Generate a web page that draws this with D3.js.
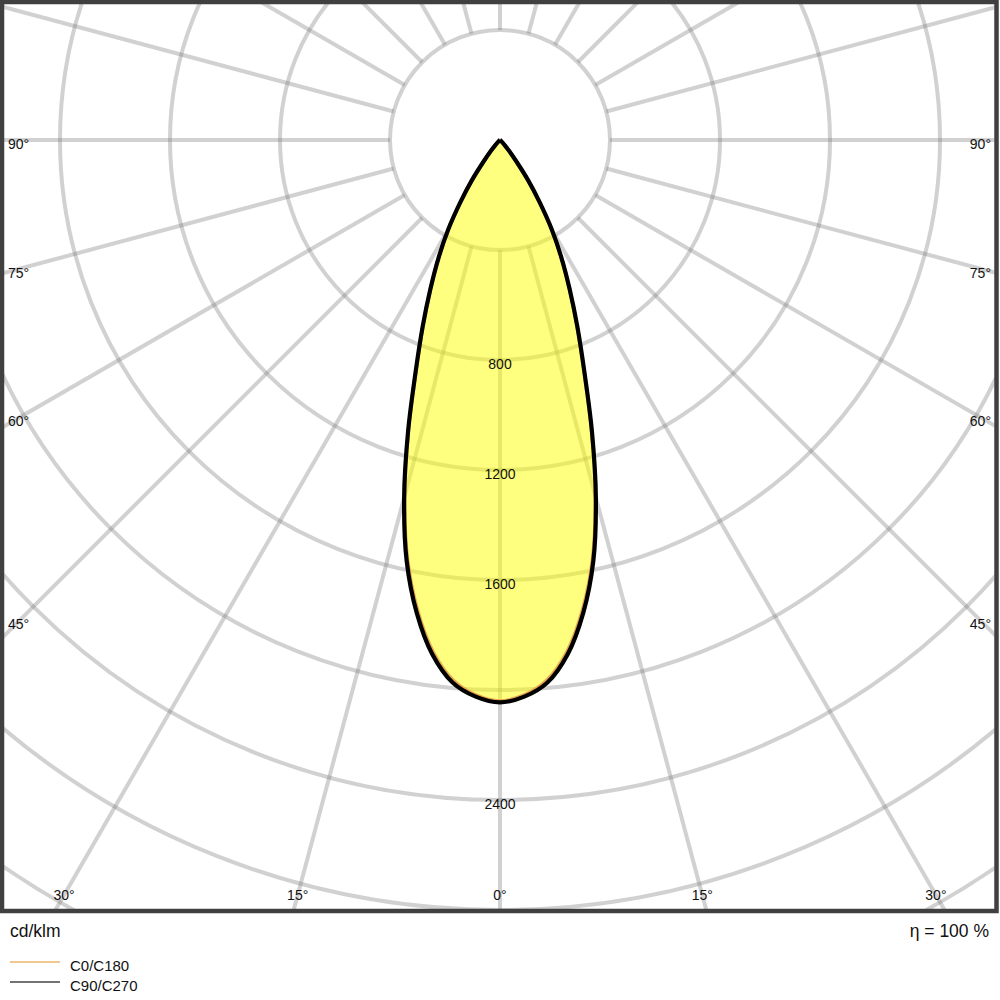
<!DOCTYPE html>
<html>
<head>
<meta charset="utf-8">
<script src="https://cdn.jsdelivr.net/npm/d3@7"></script>
<style>
  html, body { margin: 0; padding: 0; background: #fff; }
  svg { display: block; font-family: "Liberation Sans", Arial, Helvetica, sans-serif; }
</style>
</head>
<body>
<svg id="chart" width="1000" height="1000"></svg>
<script>
// ---- data (cd/klm vs. gamma angle in degrees) ----
const gammaAngles = [0, 2.5, 5, 7.5, 10, 12.5, 15, 17.5, 20, 22.5, 25, 27.5, 30, 32.5, 35, 37.5, 40, 42.5, 45, 50, 55, 60, 65, 70, 75, 80, 85, 90];
const c0c180  = [2040, 2020, 1970, 1874, 1732, 1556, 1338, 1106, 893, 732, 598, 484, 377, 267, 175, 94, 49, 24, 11, 4, 1, 0, 0, 0, 0, 0, 0, 0];
const c90c270 = [2045, 2026, 1980, 1886, 1745, 1568, 1347, 1112, 897, 735, 600, 485, 378, 268, 176, 95, 50, 25, 12, 4, 1, 0, 0, 0, 0, 0, 0, 0];
const ringValues = [400, 800, 1200, 1600, 2000, 2400, 2800, 3200, 3600];
const ringLabels = [800, 1200, 1600, 2400];
const spokeAngles = d3.range(0, 360, 15);
const sideLabels = [90, 75, 60, 45];
const bottomLabels = [0, 15, 30];
const legendItems = ["C0/C180", "C90/C270"];
const unitText = "cd/klm";
const etaText = "η = 100 %";

// ---- layout ----
const cx = 500, cy = 140;
const frame = {x: 2, y: 2, w: 994.5, h: 909};
const r = d3.scaleLinear().domain([0, 400]).range([0, 110]);
const svg = d3.select("#chart");

svg.append("defs").append("clipPath").attr("id", "clip")
  .append("rect").attr("x", 4).attr("y", 4).attr("width", 990.5).attr("height", 905);

const plot = svg.append("g").attr("clip-path", "url(#clip)");
const g = plot.append("g").attr("transform", `translate(${cx},${cy})`);

const gridStyle = sel => sel.attr("fill", "none").attr("stroke", "#808080")
  .attr("stroke-opacity", 0.36).attr("stroke-width", 4);

// rings
g.selectAll("circle.ring").data(ringValues).join("circle")
  .attr("class", "ring").attr("r", d => r(d)).call(gridStyle);

// spokes
const rMin = r(400), rMax = 1400;
g.selectAll("line.spoke").data(spokeAngles).join("line")
  .attr("class", "spoke")
  .attr("x1", d => rMin * Math.sin(d * Math.PI / 180))
  .attr("y1", d => rMin * Math.cos(d * Math.PI / 180))
  .attr("x2", d => rMax * Math.sin(d * Math.PI / 180))
  .attr("y2", d => rMax * Math.cos(d * Math.PI / 180))
  .call(gridStyle);

// curves
function pts(vals) {
  const right = gammaAngles.map((a, i) => ({a: Math.PI - a * Math.PI / 180, v: vals[i]})).reverse();
  const left = gammaAngles.slice(1).map((a, i) => ({a: Math.PI + a * Math.PI / 180, v: vals[i + 1]}));
  return right.concat(left);
}
const radial = d3.lineRadial().angle(d => d.a).radius(d => r(d.v)).curve(d3.curveCatmullRomClosed);

g.append("path").attr("d", radial(pts(c90c270)))
  .attr("fill", "#ffff00").attr("fill-opacity", 0.5).attr("stroke", "none");
g.append("path").attr("d", radial(pts(c0c180)))
  .attr("fill", "none").attr("stroke", "#e9a850").attr("stroke-width", 3.5).attr("stroke-linejoin", "round");
g.append("path").attr("d", radial(pts(c90c270)))
  .attr("fill", "none").attr("stroke", "#000").attr("stroke-width", 4.2).attr("stroke-linejoin", "round");

// ring labels
g.selectAll("text.rl").data(ringLabels).join("text")
  .attr("class", "rl").attr("x", 0).attr("y", d => r(d) + 4).attr("dy", "0.35em")
  .attr("text-anchor", "middle").attr("font-size", 14).attr("fill", "#111").text(d => d);

// side angle labels
const sideY = d => cy + (d === 90 ? 0 : 480 / Math.tan(d * Math.PI / 180)) + 4;
svg.selectAll("text.sl").data(sideLabels).join("text")
  .attr("class", "sl").attr("x", 8).attr("y", d => sideY(d)).attr("dy", "0.35em")
  .attr("text-anchor", "start").attr("font-size", 14).attr("fill", "#111").text(d => d + "°");
svg.selectAll("text.sr").data(sideLabels).join("text")
  .attr("class", "sr").attr("x", 991).attr("y", d => sideY(d)).attr("dy", "0.35em")
  .attr("text-anchor", "end").attr("font-size", 14).attr("fill", "#111").text(d => d + "°");

// bottom angle labels
const bottomData = [];
bottomLabels.forEach(d => { bottomData.push({a: d, s: 1}); if (d > 0) bottomData.push({a: d, s: -1}); });
svg.selectAll("text.bl").data(bottomData).join("text")
  .attr("class", "bl")
  .attr("x", d => cx + d.s * 755 * Math.tan(d.a * Math.PI / 180))
  .attr("y", 900).attr("text-anchor", "middle").attr("font-size", 14).attr("fill", "#111")
  .text(d => d.a + "°");

// frame
svg.append("rect").attr("x", frame.x).attr("y", frame.y).attr("width", frame.w).attr("height", frame.h)
  .attr("fill", "none").attr("stroke", "#404040").attr("stroke-width", 4.5);

// footer texts
svg.append("text").attr("x", 10).attr("y", 937).attr("font-size", 17.5).attr("fill", "#111").text(unitText);
svg.append("text").attr("x", 989).attr("y", 937).attr("text-anchor", "end").attr("font-size", 17.5).attr("fill", "#111").text(etaText);

// legend
const legendColors = ["#f0c890", "#737373"];
const lg = svg.selectAll("g.leg").data(legendItems).join("g").attr("class", "leg")
  .attr("transform", (d, i) => `translate(0,${962 + i * 20})`);
lg.append("line").attr("x1", 10).attr("x2", 60).attr("y1", 0).attr("y2", 0)
  .attr("stroke", (d, i) => legendColors[i]).attr("stroke-width", 2);
lg.append("text").attr("x", 70).attr("y", 9).attr("font-size", 15).attr("fill", "#111").text(d => d);
</script>
</body>
</html>
